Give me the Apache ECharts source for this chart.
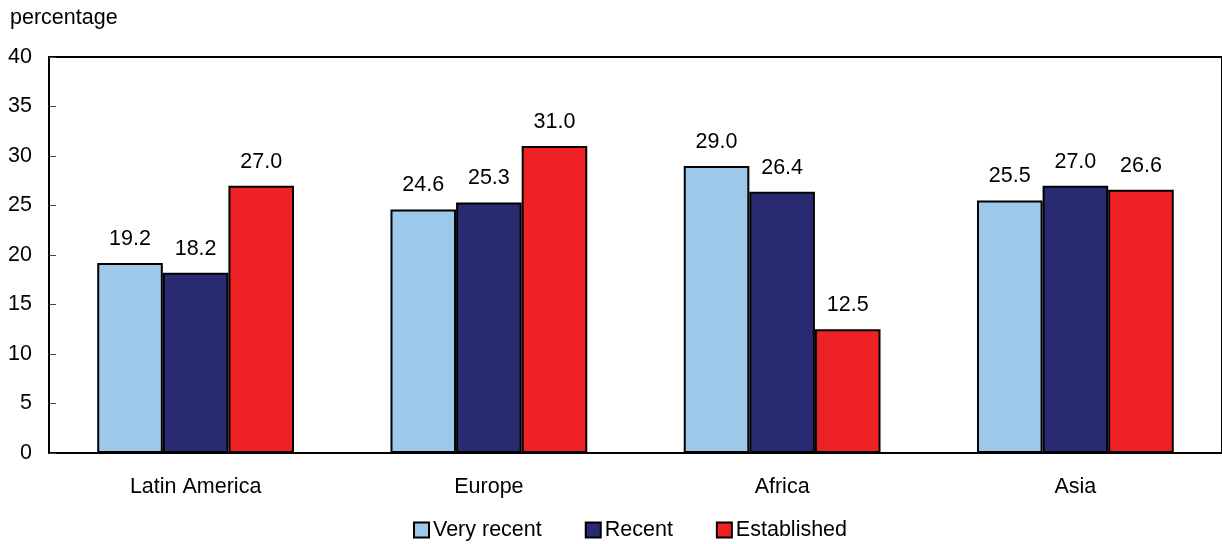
<!DOCTYPE html>
<html>
<head>
<meta charset="utf-8">
<script src="https://cdn.jsdelivr.net/npm/echarts@6/dist/echarts.min.js"></script>
<style>
  html, body { margin: 0; padding: 0; background: #fff; }
  #chart { width: 1222px; height: 544px; }
</style>
</head>
<body>
<div id="chart"></div>
<script>
// Share of immigrants by region of birth and period of arrival
const regions = ['Latin America', 'Europe', 'Africa', 'Asia'];
const veryRecent = [19.2, 24.6, 29.0, 25.5];
const recent = [18.2, 25.3, 26.4, 27.0];
const established = [27.0, 31.0, 12.5, 26.6];
const seriesNames = ['Very recent', 'Recent', 'Established'];
const seriesColors = ['#9DC8EA', '#282A72', '#EE2124'];
const yTicks = { min: 0, max: 40, step: 5 };

const font = 'Liberation Sans, Arial, Helvetica, sans-serif';
const fs = 21.5;

function barSeries(name, data, color) {
  return {
    name: name,
    type: 'bar',
    data: data,
    barGap: '0%',
    barCategoryGap: '32.9%',
    itemStyle: { color: color, borderColor: '#000', borderWidth: 2 },
    label: {
      show: true,
      position: 'top',
      distance: 13,
      color: '#000',
      fontFamily: font,
      fontSize: fs,
      formatter: p => p.value.toFixed(1)
    }
  };
}

const chart = echarts.init(document.getElementById('chart'), null, { renderer: 'canvas' });
chart.setOption({
  animation: false,
  backgroundColor: '#fff',
  textStyle: { fontFamily: font },
  grid: {
    left: 49, top: 57, bottom: 91, width: 1180,
    show: true, borderColor: '#000', borderWidth: 2, backgroundColor: 'transparent'
  },
  title: {
    text: 'percentage',
    left: 5, top: 2,
    textStyle: { fontFamily: font, fontSize: fs, fontWeight: 'normal', color: '#000' }
  },
  legend: {
    data: seriesNames,
    bottom: 3,
    left: 413,
    padding: 0,
    itemWidth: 15, itemHeight: 15, itemGap: 43,
    icon: 'rect',
    itemStyle: { borderColor: '#000', borderWidth: 2 },
    textStyle: { fontFamily: font, fontSize: fs, color: '#000', padding: [0, 0, 0, -1] }
  },
  xAxis: {
    type: 'category',
    data: regions,
    axisLine: { lineStyle: { color: '#000', width: 2 } },
    axisTick: { show: false },
    axisLabel: { color: '#000', fontFamily: font, fontSize: fs, margin: 23 }
  },
  yAxis: {
    type: 'value',
    min: yTicks.min, max: yTicks.max, interval: yTicks.step,
    splitLine: { show: false },
    axisLine: { show: true, lineStyle: { color: '#000', width: 2 } },
    axisTick: { show: true, inside: true, length: 7, lineStyle: { color: '#444', width: 1 } },
    axisLabel: { color: '#000', fontFamily: font, fontSize: fs, margin: 17 }
  },
  series: [
    barSeries(seriesNames[0], veryRecent, seriesColors[0]),
    barSeries(seriesNames[1], recent, seriesColors[1]),
    barSeries(seriesNames[2], established, seriesColors[2])
  ]
});
</script>
</body>
</html>
